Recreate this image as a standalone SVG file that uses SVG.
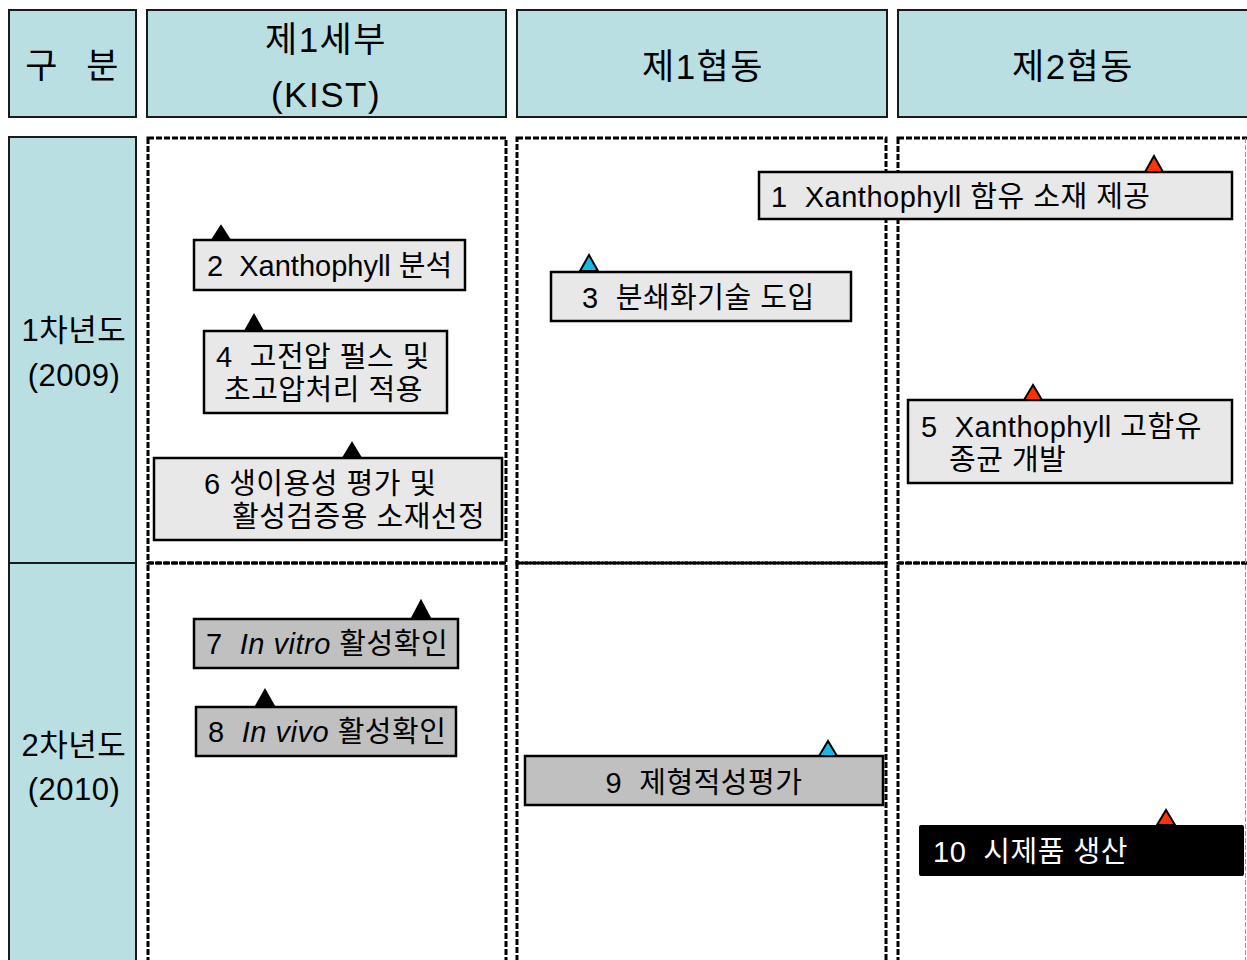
<svg xmlns="http://www.w3.org/2000/svg" width="1247" height="960" viewBox="0 0 1247 960">
<style>
text{font-family:"Liberation Sans","Noto Sans CJK KR",sans-serif;fill:#000}
.hd{fill:#B9DFE3;stroke:#1a1a1a;stroke-width:2}
.cell{fill:none;stroke:#000;stroke-width:3;stroke-dasharray:6 2}
.box{stroke:#000;stroke-width:2.5}
.lt{fill:#E8E8E8}
.dk{fill:#C0C0C0}
.t{font-size:29px;letter-spacing:0.5px}
.h{font-size:35px;letter-spacing:1.5px}
.y{font-size:31px;letter-spacing:0.5px}
.tri{stroke:#000;stroke-width:2;stroke-linejoin:miter}
.blk{fill:#000}
.red{fill:#FF3300}
.blu{fill:#19B6E8}
</style>
<rect width="1247" height="960" fill="#fff"/>
<g id="header">
<rect class="hd" x="9" y="10" width="127" height="107"/>
<text class="h" x="42" y="78" text-anchor="middle">구</text>
<text class="h" x="103" y="78" text-anchor="middle">분</text>
<rect class="hd" x="147" y="10" width="359" height="107"/>
<text class="h" x="326" y="52" text-anchor="middle">제1세부</text>
<text class="h" x="326" y="107" text-anchor="middle">(KIST)</text>
<rect class="hd" x="517" y="10" width="370" height="107"/>
<text class="h" x="703" y="79" text-anchor="middle">제1협동</text>
<rect class="hd" x="898" y="10" width="360" height="107"/>
<text class="h" x="1073" y="79" text-anchor="middle">제2협동</text>
</g>
<g id="years">
<rect class="hd" x="9" y="137" width="127" height="426"/>
<rect class="hd" x="9" y="563" width="127" height="410"/>
<text class="y" x="74" y="341" text-anchor="middle">1차년도</text>
<text class="y" x="74" y="386" text-anchor="middle">(2009)</text>
<text class="y" x="74" y="756" text-anchor="middle">2차년도</text>
<text class="y" x="74" y="800" text-anchor="middle">(2010)</text>
</g>
<g id="grid">
<rect class="cell" x="148" y="138" width="358" height="425"/>
<rect class="cell" x="148" y="563" width="358" height="410"/>
<rect class="cell" x="517" y="138" width="369" height="425"/>
<rect class="cell" x="517" y="563" width="369" height="410"/>
<rect class="cell" x="898" y="138" width="370" height="425"/>
<rect class="cell" x="898" y="563" width="370" height="410"/>
<line x1="1245.5" y1="138" x2="1245.5" y2="960" stroke="#999" stroke-width="1" stroke-dasharray="5 2"/>
</g>
<g id="node1">
<rect class="box lt" x="759" y="172" width="473" height="47"/>
<text class="t" x="771" y="207" xml:space="preserve">1  Xanthophyll 함유 소재 제공</text>
<polygon class="tri red" points="1154,156 1145,172 1163,172"/>
</g>
<g id="node2">
<rect class="box lt" x="194" y="240" width="271" height="50"/>
<text class="t" x="207" y="276" style="letter-spacing:0" xml:space="preserve">2  Xanthophyll 분석</text>
<polygon class="tri blk" points="221,226 212,240 230,240"/>
</g>
<g id="node3">
<rect class="box lt" x="551" y="272" width="300" height="49"/>
<text class="t" x="582" y="308" xml:space="preserve">3  분쇄화기술 도입</text>
<polygon class="tri blu" points="589,255 580,271 598,271"/>
</g>
<g id="node4">
<rect class="box lt" x="204" y="331" width="243" height="82"/>
<text class="t" x="216" y="367" xml:space="preserve">4  고전압 펄스 및</text>
<text class="t" x="224" y="400">초고압처리 적용</text>
<polygon class="tri blk" points="254,315 245,331 263,331"/>
</g>
<g id="node5">
<rect class="box lt" x="908" y="400" width="324" height="83"/>
<text class="t" x="921" y="437" xml:space="preserve">5  Xanthophyll 고함유</text>
<text class="t" x="949" y="470">종균 개발</text>
<polygon class="tri red" points="1033,385 1024,400 1042,400"/>
</g>
<g id="node6">
<rect class="box lt" x="154" y="458" width="348" height="82"/>
<text class="t" x="204" y="494">6 생이용성 평가 및</text>
<text class="t" x="232" y="527">활성검증용 소재선정</text>
<polygon class="tri blk" points="352,443 343,458 361,458"/>
</g>
<g id="node7">
<rect class="box dk" x="194" y="619" width="264" height="49"/>
<text class="t" x="206" y="654" xml:space="preserve">7  <tspan font-style="italic">In vitro</tspan> 활성확인</text>
<polygon class="tri blk" points="421,601 412,618 430,618"/>
</g>
<g id="node8">
<rect class="box dk" x="196" y="707" width="260" height="49"/>
<text class="t" x="208" y="742" xml:space="preserve">8  <tspan font-style="italic">In vivo</tspan> 활성확인</text>
<polygon class="tri blk" points="265,690 256,706 274,706"/>
</g>
<g id="node9">
<rect class="box dk" x="525" y="756" width="358" height="49"/>
<text class="t" x="704" y="793" text-anchor="middle" xml:space="preserve">9  제형적성평가</text>
<polygon class="tri blu" points="828,741 819,756 837,756"/>
</g>
<g id="node10">
<rect x="919" y="825" width="325" height="51" rx="2" fill="#000"/>
<text class="t" x="933" y="862" style="fill:#fff" xml:space="preserve">10  시제품 생산</text>
<polygon class="tri red" points="1166,810 1157,825 1175,825"/>
</g>
</svg>
